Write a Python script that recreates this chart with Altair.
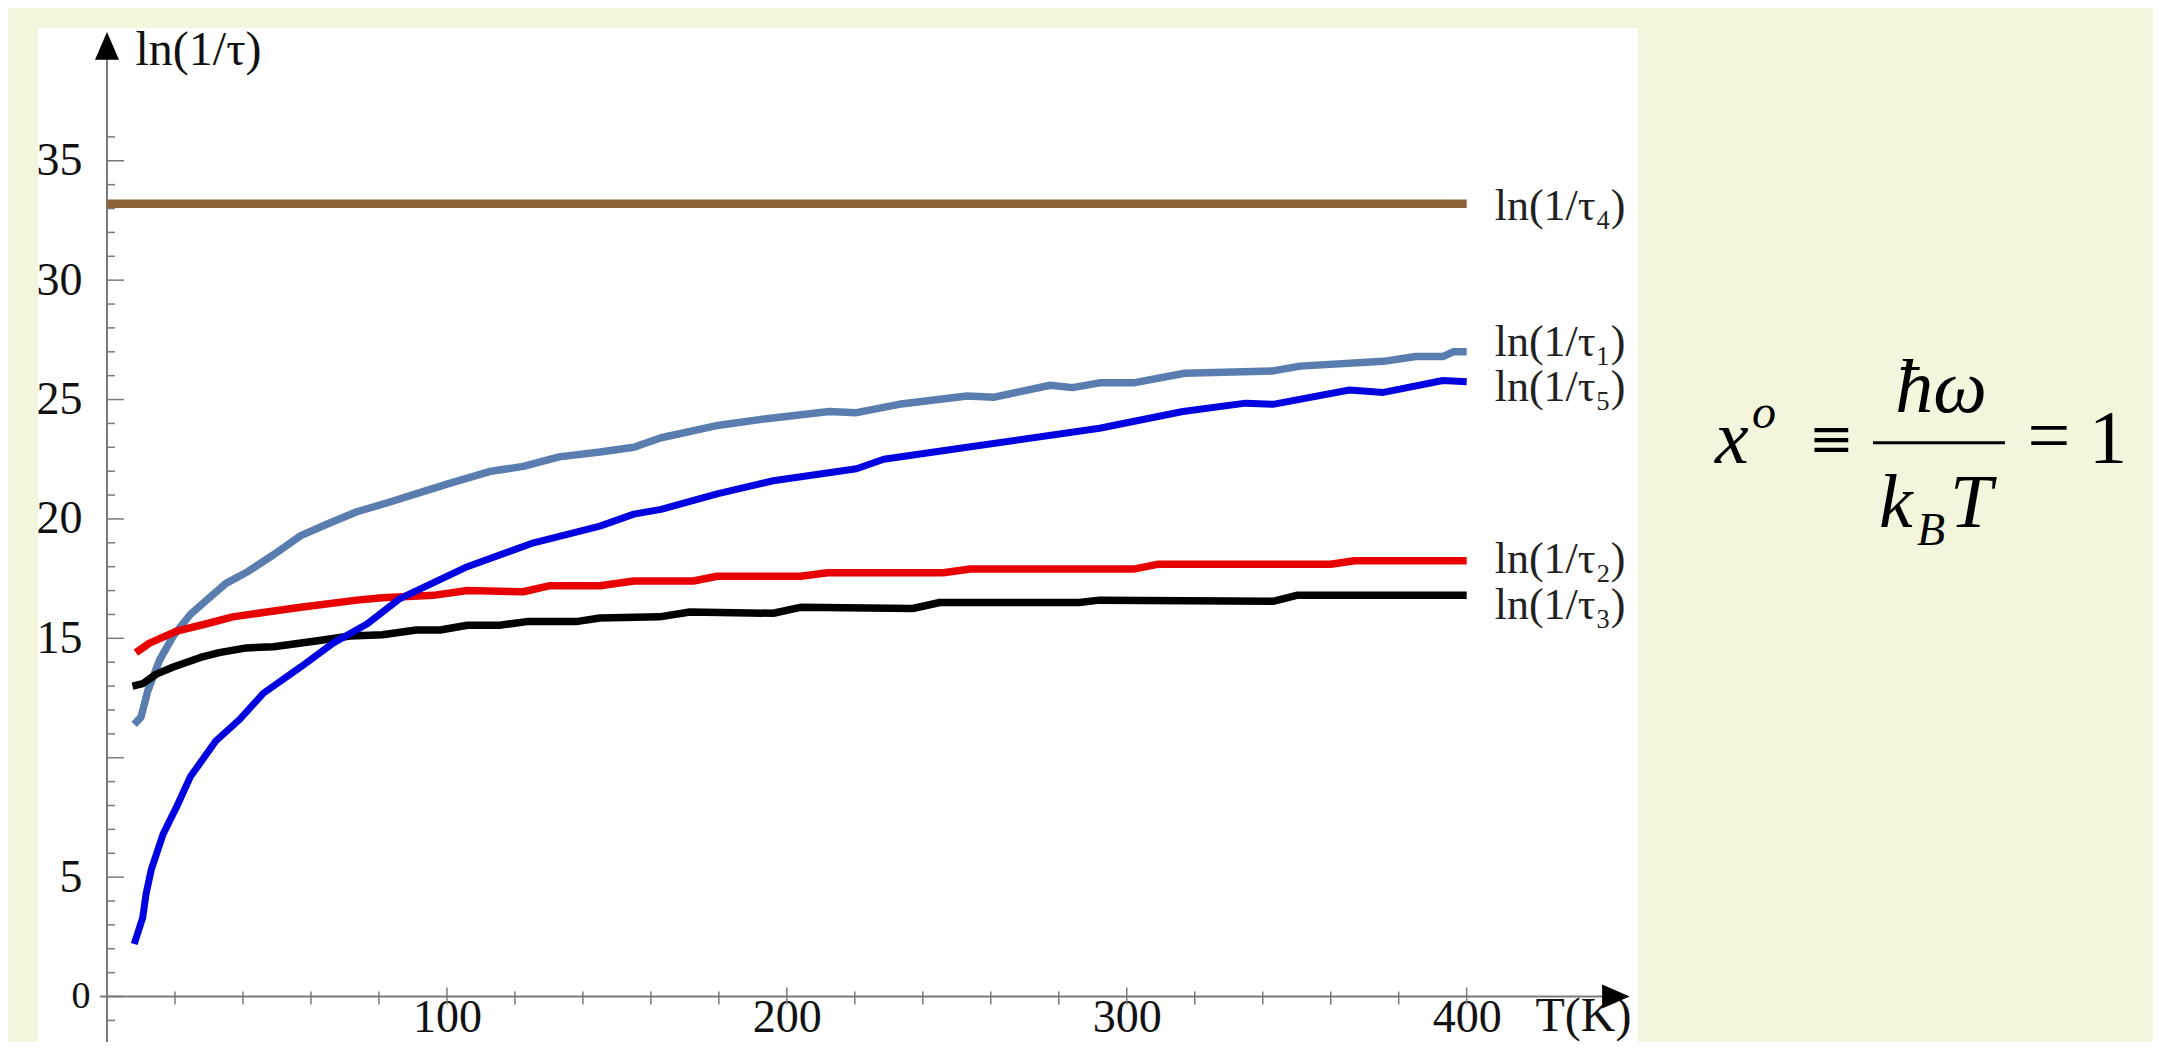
import altair as alt
import pandas as pd

FONT = "Liberation Serif"

# ---------------- data ----------------
series_names = ["ln(1/τ₁)", "ln(1/τ₂)", "ln(1/τ₃)", "ln(1/τ₄)", "ln(1/τ₅)"]
series_colors = ["#5A7DB0", "#E80000", "#000000", "#8C6239", "#0000E0"]

t_tau1 = [8, 10, 12, 15.5, 19.5, 24.5, 28.5, 35, 41.5, 49, 57, 65, 73.5, 83, 92, 101,
          113, 122.5, 133, 145, 155, 163, 179, 194, 212.5, 220.5, 233, 253, 261, 277.5,
          284, 292, 302, 317, 343, 351, 375.5, 385, 393, 396, 400]
v_tau1 = [11.4, 11.7, 12.8, 14.1, 15.1, 16.0, 16.5, 17.3, 17.8, 18.5, 19.3, 19.8, 20.3,
          20.7, 21.1, 21.5, 22.0, 22.2, 22.6, 22.8, 23.0, 23.4, 23.9, 24.2, 24.5, 24.45,
          24.8, 25.15, 25.1, 25.6, 25.5, 25.7, 25.7, 26.1, 26.2, 26.4, 26.6, 26.8, 26.8,
          27.0, 27.0]

t_tau2 = [8.5, 12.5, 20.5, 29, 37, 47, 57, 73.5, 81, 96, 106, 122.5, 130, 145, 155,
          172.5, 179.5, 204, 212, 246, 254, 292, 302, 309, 360, 367, 400]
v_tau2 = [14.4, 14.8, 15.3, 15.6, 15.9, 16.1, 16.3, 16.6, 16.7, 16.8, 17.0, 16.95, 17.2,
          17.2, 17.4, 17.4, 17.6, 17.6, 17.75, 17.75, 17.9, 17.9, 17.9, 18.1, 18.1, 18.25,
          18.25]

t_tau3 = [7.5, 10.5, 14.5, 19.5, 27.5, 33, 41, 49, 62, 71.5, 81, 91, 98, 106, 115.5,
          123.5, 138, 145, 162.5, 171.5, 196, 204, 237, 245, 286, 292, 343, 350, 400]
v_tau3 = [13.0, 13.1, 13.5, 13.8, 14.2, 14.4, 14.6, 14.65, 14.9, 15.1, 15.15, 15.35,
          15.35, 15.55, 15.55, 15.7, 15.7, 15.85, 15.9, 16.1, 16.05, 16.3, 16.25, 16.5,
          16.5, 16.6, 16.55, 16.8, 16.8]

t_tau4 = [0, 400]
v_tau4 = [33.2, 33.2]

t_tau5 = [8, 10.5, 11.5, 13, 16.5, 20.5, 24.5, 28.5, 32, 39, 46, 57, 66.5, 76.5, 86, 106,
          125.5, 145, 155, 163, 179.5, 187, 196, 220.5, 228.5, 253, 292, 316.5, 335, 343,
          365.5, 375.5, 393, 400]
v_tau5 = [2.2, 3.3, 4.3, 5.3, 6.8, 7.95, 9.2, 10.0, 10.7, 11.6, 12.7, 13.8, 14.8, 15.6,
          16.65, 18.0, 19.0, 19.7, 20.2, 20.4, 21.05, 21.3, 21.6, 22.1, 22.5, 23.0, 23.8,
          24.5, 24.85, 24.8, 25.4, 25.3, 25.8, 25.75]

label_y = [27.35, 18.28, 16.36, 33.07, 25.48]
label_t = [400, 400, 400, 400, 400]

x_minor_ticks = [v for v in range(20, 401, 20) if v % 100 != 0]
x_major_ticks = [100, 200, 300, 400]
x_label_values = [100, 200, 300, 400]
y_minor_ticks = [v for v in range(-1, 37) if v % 5 != 0]
y_major_ticks = [0, 5, 10, 15, 20, 25, 30, 35]
y_label_values = [0, 5, 15, 20, 25, 30, 35]

# ---------------- scales / axes ----------------
x_scale = alt.Scale(domain=[-20.3, 450.4], nice=False, zero=False)
y_scale = alt.Scale(domain=[-1.905, 40.56], nice=False, zero=False)

x_axis = alt.Axis(
    orient="bottom", offset=-47, values=x_label_values, domain=False, grid=False,
    ticks=False, tickSize=0,
    labelFont=FONT, labelColor="#111111", labelBaseline="alphabetic", labelFontSize=46,
    labelPadding=36, labelFlush=False, labelOverlap=False,
    title="T(K)", titleFont=FONT, titleFontSize=48, titleFontWeight="normal",
    titleColor="#111111", titleX=1497, titleY=35, titleAlign="left",
    titleBaseline="alphabetic", titleAngle=0,
)
y_axis = alt.Axis(
    orient="left", offset=-69, values=y_label_values, domain=False, grid=False,
    ticks=False, tickSize=0,
    labelFont=FONT, labelColor="#111111", labelAlign="right", labelBaseline="middle",
    labelFontSize={"condition": {"test": "datum.value == 0", "value": 38}, "value": 46},
    labelPadding={"condition": {"test": "datum.value == 0", "value": 17}, "value": 25},
    labelOverlap=False, labelFlush=False,
    title="ln(1/τ)", titleFont=FONT, titleFontSize=48, titleFontWeight="normal",
    titleColor="#111111", titleX=28, titleY=36, titleAlign="left",
    titleBaseline="alphabetic", titleAngle=0,
)

x_enc = alt.X("T:Q", scale=x_scale, axis=x_axis)
y_enc = alt.Y("v:Q", scale=y_scale, axis=y_axis)

one = alt.Data(values=[{}])
AXIS_GRAY = "#7a7a7a"
layers = []

# axis lines and arrows
layers.append(alt.Chart(one).mark_rule(color=AXIS_GRAY, strokeWidth=2).encode(
    x=alt.datum(-2), x2=alt.datum(440), y=alt.datum(0)))
layers.append(alt.Chart(one).mark_rule(color=AXIS_GRAY, strokeWidth=2).encode(
    x=alt.datum(0), y=alt.datum(-1.905), y2=alt.datum(39.4)))
layers.append(alt.Chart(one).mark_point(shape="M-1.15,-1L1.15,0L-1.15,1Z", filled=True,
                                        size=576, color="#000000", opacity=1).encode(
    x=alt.datum(443.9), y=alt.datum(0)))
layers.append(alt.Chart(one).mark_point(shape="M-1,1.15L0,-1.15L1,1.15Z", filled=True,
                                        size=576, color="#000000", opacity=1).encode(
    x=alt.datum(0), y=alt.datum(39.81)))

# tick marks (pointing right of the y axis, crossing the x axis)
layers.append(alt.Chart(pd.DataFrame({"v": y_minor_ticks})).mark_tick(
    orient="horizontal", size=8, thickness=1.5, color=AXIS_GRAY, xOffset=4, opacity=1).encode(
    x=alt.datum(0), y=y_enc))
layers.append(alt.Chart(pd.DataFrame({"v": y_major_ticks})).mark_tick(
    orient="horizontal", size=17, thickness=1.5, color=AXIS_GRAY, xOffset=8.5, opacity=1).encode(
    x=alt.datum(0), y=y_enc))
layers.append(alt.Chart(pd.DataFrame({"T": x_minor_ticks})).mark_tick(
    orient="vertical", size=13, thickness=1.5, color=AXIS_GRAY, yOffset=1.5, opacity=1).encode(
    x=x_enc, y=alt.datum(0)))
layers.append(alt.Chart(pd.DataFrame({"T": x_major_ticks})).mark_tick(
    orient="vertical", size=17, thickness=1.5, color=AXIS_GRAY, yOffset=-0.5, opacity=1).encode(
    x=x_enc, y=alt.datum(0)))

# curves
all_t = [t_tau1, t_tau2, t_tau3, t_tau4, t_tau5]
all_v = [v_tau1, v_tau2, v_tau3, v_tau4, v_tau5]
widths = [7.5, 7.5, 7.5, 8.5, 7]
for name, col, ts, vs, w in zip(series_names, series_colors, all_t, all_v, widths):
    df = pd.DataFrame({"T": ts, "v": vs})
    layers.append(alt.Chart(df).mark_line(color=col, strokeWidth=w, strokeJoin="round",
                                          strokeCap="butt").encode(x=x_enc, y=y_enc))

# series labels
lab_df = pd.DataFrame({"T": label_t, "v": label_y, "name": series_names})
layers.append(alt.Chart(lab_df).mark_text(align="left", baseline="middle", dx=28,
                                          font=FONT, fontSize=44, color="#222222").encode(
    x=x_enc, y=y_enc, text="name:N"))

# formula  x^o ≡ ħω / (k_B T) = 1
def piece(s, px, py, size, style="normal", align="left", font=FONT):
    return alt.Chart(one).mark_text(text=s, font=font, fontSize=size, fontStyle=style,
                                    align=align, baseline="alphabetic",
                                    color="#000000").encode(x=alt.value(px), y=alt.value(py))

layers += [
    piece("x", 1677, 435, 76, "italic"),
    piece("o", 1714, 400, 48, "italic"),
    piece("≡", 1793, 429, 54, "normal", "center", "DejaVu Serif"),
    piece("ħω", 1903, 384, 76, "italic", "center"),
    piece("k", 1841, 499, 76, "italic"),
    piece("B", 1879, 517, 46, "italic"),
    piece("T", 1912, 499, 76, "italic"),
    piece("=", 2011, 433, 76, "normal", "center"),
    piece("1", 2051, 435, 76, "normal"),
]
layers.append(alt.Chart(one).mark_rule(color="#000000", strokeWidth=3).encode(
    x=alt.value(1835), x2=alt.value(1967), y=alt.value(414.7)))

chart = alt.layer(*layers).properties(
    width=1600, height=1014,
    padding={"left": 30, "top": 20, "right": 515, "bottom": 0},
    autosize=alt.AutoSizeParams(type="none"),
    background="#F3F6DC",
).configure_view(fill="white", stroke=None)

chart.save("out.html", embed_options={"renderer": "svg", "actions": False})
